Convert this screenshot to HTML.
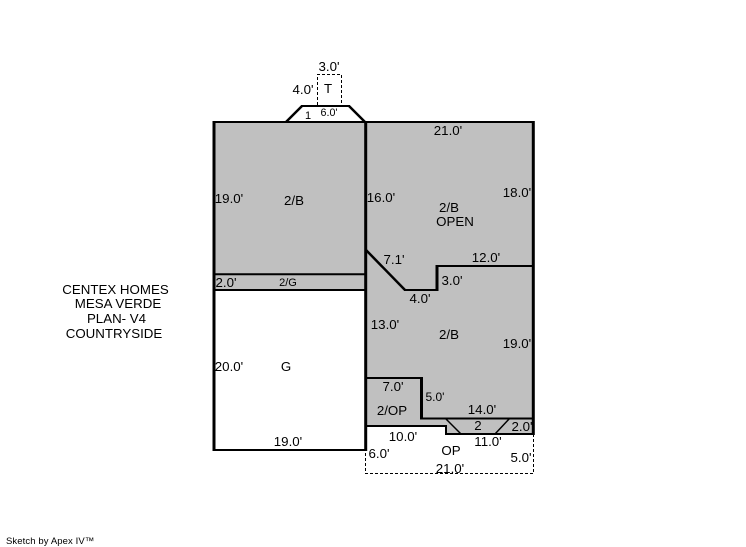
<!DOCTYPE html>
<html><head><meta charset="utf-8"><style>
html,body{margin:0;padding:0;background:#fff}
svg{display:block}
text{font-family:"Liberation Sans",Arial,sans-serif;font-size:13.3px;fill:#000}
</style></head><body>
<svg width="746" height="547" viewBox="0 0 746 547" xmlns="http://www.w3.org/2000/svg">
<rect width="746" height="547" fill="#fff"/>
<path d="M214 122H533V434H446V426H366V450H214V122Z" fill="#c0c0c0"/>
<rect x="214" y="290" width="152" height="160" fill="#fff"/>
<g fill="none" stroke="#000" stroke-width="1" stroke-dasharray="3 2">
<path d="M317.500 105V74.500H341.500V105"/>
<path d="M533.500 434V473.500H365.500V450"/>
</g>
<g fill="none" stroke="#000" stroke-width="2" stroke-linecap="square">
<path d="M214 122H533"/>
<path d="M214 274.300H365M214 290H365M214 450H365"/>
<path d="M405 290H437M437 266H533"/>
<path d="M366 378H421M421 418.500H533"/>
<path d="M366 426H446M446 434H533"/>
<path d="M302 106H349"/>
</g>
<g fill="none" stroke="#000" stroke-width="3">
<path d="M214 121V451"/>
<path d="M365.700 121V451"/>
<path d="M533.300 121V435"/>
<path d="M437 265V291"/>
<path d="M421.500 377V419"/>
<path d="M446 425V435" stroke-width="2"/>
<path d="M366 250L405 290" stroke-width="2.500"/>
<path d="M286 122L302 106" stroke-width="2.500"/>
<path d="M349 106L365.500 122.500" stroke-width="2.500"/>
<path d="M445 418L461 434M495 434L510 418" stroke-width="1.500"/>
</g>
<g text-anchor="middle">
<text x="329" y="71">3.0'</text>
<text x="303" y="94">4.0'</text>
<text x="328" y="93">T</text>
<text x="308" y="119" style="font-size:11px">1</text>
<text x="329" y="116" style="font-size:10.700px">6.0'</text>
<text x="448" y="135">21.0'</text>
<text x="229" y="203">19.0'</text>
<text x="294" y="205">2/B</text>
<text x="381" y="202">16.0'</text>
<text x="449" y="212">2/B</text>
<text x="455" y="226">OPEN</text>
<text x="517" y="197">18.0'</text>
<text x="394" y="264">7.1'</text>
<text x="486" y="262">12.0'</text>
<text x="452" y="285">3.0'</text>
<text x="420" y="303">4.0'</text>
<text x="226" y="287">2.0'</text>
<text x="288" y="286" style="font-size:11px">2/G</text>
<text x="385" y="329">13.0'</text>
<text x="449" y="339">2/B</text>
<text x="517" y="348">19.0'</text>
<text x="229" y="371">20.0'</text>
<text x="286" y="371">G</text>
<text x="393" y="391">7.0'</text>
<text x="392" y="415">2/OP</text>
<text x="435" y="401" style="font-size:12px">5.0'</text>
<text x="482" y="414">14.0'</text>
<text x="478" y="430">2</text>
<text x="522" y="431">2.0'</text>
<text x="403" y="441">10.0'</text>
<text x="488" y="446">11.0'</text>
<text x="288" y="446">19.0'</text>
<text x="379" y="458">6.0'</text>
<text x="451" y="455">OP</text>
<text x="521" y="462">5.0'</text>
<text x="450" y="473">21.0'</text>
<text x="115.500" y="294">CENTEX HOMES</text>
<text x="118" y="308">MESA VERDE</text>
<text x="116.500" y="323">PLAN- V4</text>
<text x="114" y="338">COUNTRYSIDE</text>
</g>
<text x="6" y="544" style="font-size:9.500px;letter-spacing:.1px">Sketch by Apex IV™</text>
</svg>
</body></html>
